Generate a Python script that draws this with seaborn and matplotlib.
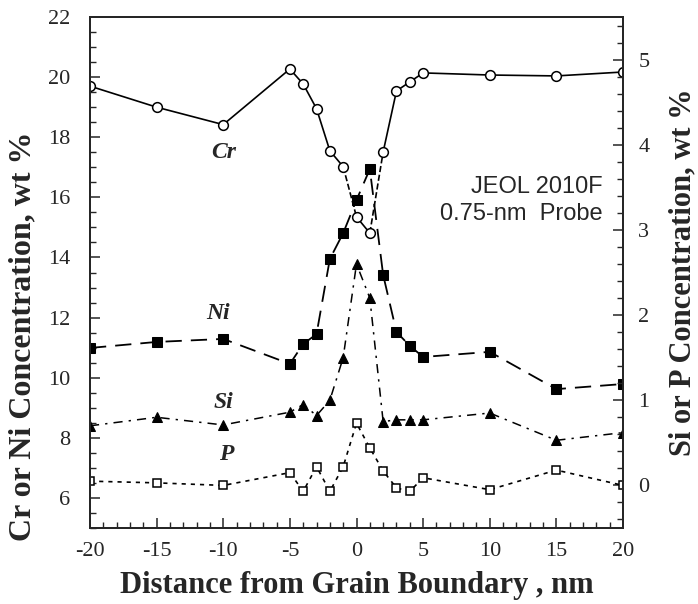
import numpy as np
import pandas as pd
import matplotlib
matplotlib.use("Agg")
import matplotlib.pyplot as plt
import seaborn as sns
from matplotlib.ticker import MultipleLocator

# ---- data ----
dist = [-20, -15, -10, -5, -4, -3, -2, -1, 0, 1, 2, 3, 4, 5, 10, 15, 20]
cr = [19.70, 19.00, 18.42, 20.27, 19.77, 18.95, 17.55, 17.02, 15.35, 14.81, 17.51, 19.54, 19.84, 20.14, 20.07, 20.04, 20.17]
ni = [10.99, 11.19, 11.29, 10.46, 11.12, 11.45, 13.95, 14.81, 15.91, 16.94, 13.42, 11.52, 11.06, 10.69, 10.86, 9.62, 9.79]
si = [0.70, 0.80, 0.71, 0.86, 0.95, 0.82, 1.00, 1.50, 2.60, 2.20, 0.75, 0.77, 0.77, 0.77, 0.85, 0.53, 0.62]
p = [0.05, 0.03, 0.00, 0.15, -0.07, 0.22, -0.07, 0.22, 0.73, 0.44, 0.17, -0.03, -0.07, 0.09, -0.05, 0.18, 0.00]

x_ticks = [-20, -15, -10, -5, 0, 5, 10, 15, 20]
left_ticks = [6, 8, 10, 12, 14, 16, 18, 20, 22]
right_ticks = [0, 1, 2, 3, 4, 5]

sns.set_style("ticks")
plt.rcParams['font.family'] = ['Liberation Serif', 'DejaVu Serif']
plt.rcParams['axes.unicode_minus'] = False
plt.rcParams['xtick.direction'] = 'in'
plt.rcParams['ytick.direction'] = 'in'

fig = plt.figure(figsize=(6.98, 6.04), dpi=100)
ax = fig.add_axes([90/698, 1-528/604, (623-90)/698, (528-17)/604])
ax2 = ax.twinx()

df = pd.DataFrame({"d": dist, "cr": cr, "ni": ni, "si": si, "p": p})
lw = 1.2
k = "black"

# Cr : mostly solid, dashed around the boundary
i_m1 = dist.index(-1)
i_0 = dist.index(0)
i_1 = dist.index(1)
i_2 = dist.index(2)
segs = [(0, i_m1 + 1, '-'), (i_m1, i_0 + 1, '--'), (i_0, i_1 + 1, '-'),
        (i_1, i_2 + 1, '--'), (i_2, len(dist), '-')]
for a, b, ls in segs:
    sub = df.iloc[a:b]
    sns.lineplot(data=sub, x="d", y="cr", ax=ax, color=k, lw=lw, linestyle=ls,
                 sort=False, estimator=None)
sns.lineplot(data=df, x="d", y="cr", ax=ax, color=k, lw=0, marker='o', markersize=7,
             markerfacecolor='white', markeredgecolor=k, markeredgewidth=1.1,
             sort=False, estimator=None)

# Ni : long dashes, filled squares
sns.lineplot(data=df, x="d", y="ni", ax=ax, color=k, lw=1.3, marker='s', markersize=7,
             markerfacecolor=k, markeredgecolor=k, sort=False, estimator=None)
ax.lines[-1].set_dashes([9, 5])

# Si : dash-dot, filled triangles
sns.lineplot(data=df, x="d", y="si", ax=ax2, color=k, lw=1.1, marker='^', markersize=7,
             markerfacecolor=k, markeredgecolor=k, sort=False, estimator=None)
ax2.lines[-1].set_dashes([6, 4, 1.5, 4])

# P : short dashes, open squares
sns.lineplot(data=df, x="d", y="p", ax=ax2, color=k, lw=1.2, marker='s', markersize=6,
             markerfacecolor='white', markeredgecolor=k, markeredgewidth=1.1,
             sort=False, estimator=None)
ax2.lines[-1].set_dashes([2.5, 3])

ax.set_xlim(-20, 20)
ax.set_ylim(5, 22)
ax2.set_ylim(-0.5, 5.5)

ax.set_xticks(x_ticks)
ax.set_yticks(left_ticks)
ax2.set_yticks(right_ticks)
ax.xaxis.set_minor_locator(MultipleLocator(1))
ax.yaxis.set_minor_locator(MultipleLocator(0.5))
ax2.yaxis.set_minor_locator(MultipleLocator(0.2))

for a in (ax, ax2):
    a.tick_params(which='major', length=7, width=1.1, labelsize=16)
    a.tick_params(which='minor', length=4, width=1.0)
    for s in a.spines.values():
        s.set_linewidth(1.4)
ax.tick_params(axis='x', which='both', top=False, pad=10)
ax.tick_params(axis='y', pad=14)
ax2.tick_params(axis='y', pad=11)
ax2.tick_params(axis='x', which='both', top=False, bottom=False)

ax.set_xlabel("Distance from Grain Boundary , nm", fontsize=22, fontweight='bold', labelpad=7)
ax.set_ylabel("Cr or Ni Concentration, wt %", fontsize=23, fontweight='bold')
ax2.set_ylabel("Si or P Concentration, wt %", fontsize=22, fontweight='bold', labelpad=14)
ax.yaxis.set_label_coords(-0.098, 0.375)

lab = dict(fontsize=17, fontweight='bold', fontstyle='italic', ha='center', va='center')
ax.text(-10, 17.5, "Cr", **lab)
ax.text(-10.4, 12.15, "Ni", **lab)
ax.text(-10, 9.16, "Si", **lab)
ax.text(-9.8, 7.43, "P", **lab)

sans = ['Liberation Sans', 'DejaVu Sans']
ax.text(18.5, 16.34, "JEOL 2010F", fontsize=17, family=sans, ha='right', va='center')
ax.text(18.5, 15.45, "0.75-nm  Probe", fontsize=17, family=sans, ha='right', va='center')

fig.savefig("out.png", dpi=100)
